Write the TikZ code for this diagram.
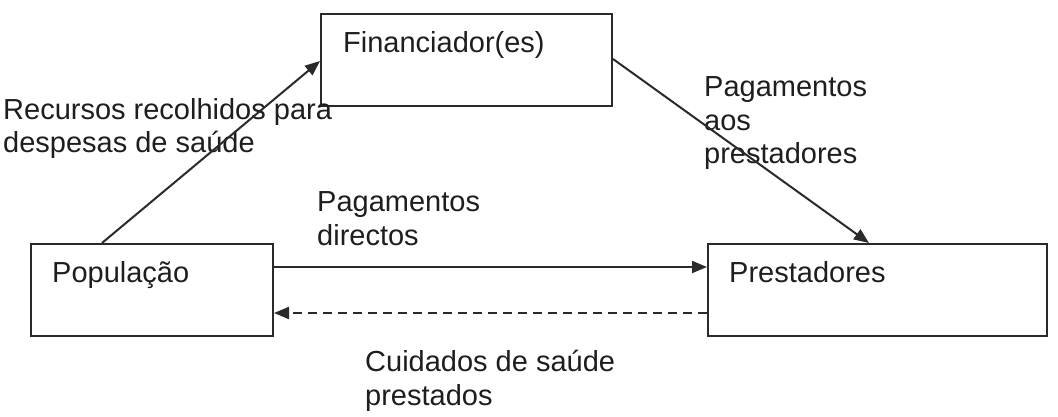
\documentclass[tikz,border=0pt]{standalone}
\usepackage{fontspec}
\setmainfont{Liberation Sans}
\usetikzlibrary{arrows.meta,calc}
\definecolor{ink}{HTML}{1E1E1E}
\definecolor{lineink}{HTML}{2A2A2A}
\tikzset{
  box/.style={draw=lineink, line width=2pt, inner sep=0pt, minimum width=#1, minimum height=92pt},
  lbl/.style={anchor=base west, inner sep=0pt, align=left, text=ink,
              font=\fontsize{29}{33.5}\selectfont},
  conn/.style={draw=lineink, line width=2pt, -{Triangle[length=15pt,width=12pt]}},
  back/.style={conn, dashed, dash pattern=on 9pt off 6pt}
}
\begin{document}
\begin{tikzpicture}[x=1pt,y=-1pt]
\useasboundingbox (0,0) rectangle (1058,417);
\node[box=291pt] (fin) at (466.5,60) {};
\node[box=242pt] (pop) at (152,290) {};
\node[box=339pt] (pre) at (877.5,290) {};
\node[lbl] (tfin) at (343,53) {Financiador(es)};
\node[lbl] (tpop) at (52,282) {População};
\node[lbl] (tpre) at (729,282) {Prestadores};
\node[lbl] (lrec) at (3,153) {Recursos recolhidos para\\despesas de saúde};
\node[lbl] (lpag) at (704,164) {Pagamentos\\aos\\prestadores};
\node[lbl] (ldir) at (317,245) {Pagamentos\\directos};
\node[lbl] (lcui) at (365,405) {Cuidados de saúde\\prestados};
\draw[conn] ($(pop.north west)+(72,0)$) -- ($(fin.north west)+(0,48)$);
\draw[conn] ($(fin.north east)+(0,46)$) -- ($(pre.north west)+(162,0)$);
\draw[conn] ($(pop.east)+(0,-23)$) -- ($(pre.west)+(0,-23)$);
\draw[back] ($(pre.west)+(0,23)$) -- ($(pop.east)+(0,23)$);
\end{tikzpicture}
\end{document}
